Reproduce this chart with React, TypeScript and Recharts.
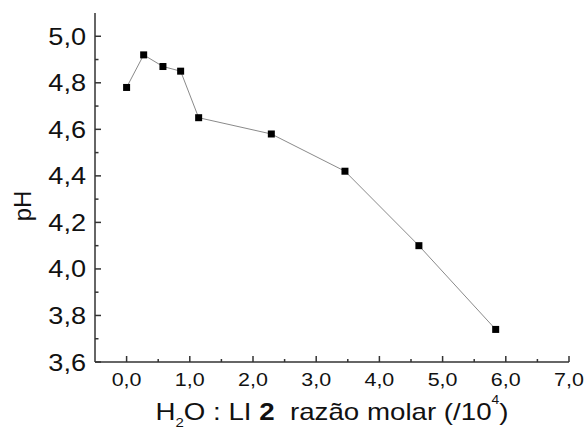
import { LineChart, Line, XAxis, YAxis } from "recharts";

// H2O : LI 2 molar ratio (/10^4) vs pH
const ratio = [0, 0.27, 0.575, 0.855, 1.14, 2.29, 3.455, 4.625, 5.84];
const ph = [4.78, 4.92, 4.87, 4.85, 4.65, 4.58, 4.42, 4.1, 3.74];

const xTicks = [0, 0.5, 1, 1.5, 2, 2.5, 3, 3.5, 4, 4.5, 5, 5.5, 6, 6.5, 7];
const yTicks = [3.6, 3.7, 3.8, 3.9, 4.0, 4.1, 4.2, 4.3, 4.4, 4.5, 4.6, 4.7, 4.8, 4.9, 5.0];

const data = ratio.map((r, i) => ({ r, ph: ph[i] }));

const AXIS = "#333";
const FONT = "'Liberation Sans', Arial, sans-serif";
const STRETCH = 1.13; // the source figure is a bit wider than tall
const fmt = (v: number) => v.toFixed(1).replace(".", ",");

function XTick({ x, y, payload }: any) {
  const v = payload.value as number;
  const major = Number.isInteger(v);
  return (
    <g>
      <line x1={x} x2={x} y1={y} y2={y - (major ? 6 : 3)} stroke={AXIS} strokeWidth={1.5} />
      {major && (
        <text
          transform={`translate(${x},${y + 24}) scale(${STRETCH},1)`}
          textAnchor="middle"
          fontSize={19}
          fill="#111"
          fontFamily={FONT}
        >
          {fmt(v)}
        </text>
      )}
    </g>
  );
}

function YTick({ x, y, payload }: any) {
  const v = payload.value as number;
  const major = Math.round(v * 10) % 2 === 0;
  return (
    <g>
      <line x1={x} x2={x + (major ? 6 : 3.5)} y1={y} y2={y} stroke={AXIS} strokeWidth={1.5} />
      {major && (
        <text
          transform={`translate(${x - 9},${y + 8.5}) scale(${STRETCH},1)`}
          textAnchor="end"
          fontSize={24}
          fill="#111"
          fontFamily={FONT}
        >
          {fmt(v)}
        </text>
      )}
    </g>
  );
}

function Square({ cx, cy }: any) {
  return <rect x={cx - 3.5} y={cy - 3.5} width={7} height={7} fill="#000" />;
}

export default function App() {
  return (
    <div style={{ position: "absolute", left: 0, top: 0, background: "#fff" }}>
      <LineChart width={586} height={432} data={data} margin={{ top: 13, right: 17, left: 0, bottom: 0 }}>
        <XAxis
          xAxisId="top"
          orientation="top"
          dataKey="r"
          type="number"
          domain={[-0.5, 7]}
          height={0}
          tick={false}
          tickLine={false}
          axisLine={{ stroke: AXIS, strokeWidth: 1.5 }}
        />
        <YAxis
          yAxisId="right"
          orientation="right"
          type="number"
          domain={[3.6, 5.1]}
          width={0}
          tick={false}
          tickLine={false}
          axisLine={{ stroke: AXIS, strokeWidth: 1.5 }}
        />
        <XAxis
          dataKey="r"
          type="number"
          domain={[-0.5, 7]}
          ticks={xTicks}
          interval={0}
          height={70}
          tickSize={0}
          tickMargin={0}
          tickLine={false}
          tick={<XTick />}
          axisLine={{ stroke: AXIS, strokeWidth: 1.5 }}
          label={{
            content: ({ viewBox }: any) => (
              <text
                x={viewBox.x + viewBox.width / 2 - 176.5}
                y={420}
                textLength={353}
                lengthAdjust="spacingAndGlyphs"
                fontSize={24}
                fill="#111"
                fontFamily={FONT}
              >
                H<tspan fontSize={13} dy={7}>2</tspan>
                <tspan dy={-7}>O : LI </tspan>
                <tspan fontWeight="bold">2</tspan>
                <tspan>{"\u00a0 razão molar (/10"}</tspan>
                <tspan fontSize={12} dy={-16}>4</tspan>
                <tspan dy={16}>)</tspan>
              </text>
            ),
          }}
        />
        <YAxis
          type="number"
          domain={[3.6, 5.1]}
          ticks={yTicks}
          interval={0}
          width={95}
          tickSize={0}
          tickMargin={0}
          tickLine={false}
          tick={<YTick />}
          axisLine={{ stroke: AXIS, strokeWidth: 1.5 }}
          label={{
            content: () => (
              <text
                x={31}
                y={206}
                textAnchor="middle"
                fontSize={24}
                fill="#111"
                fontFamily={FONT}
                transform="rotate(-90 31 206)"
              >
                pH
              </text>
            ),
          }}
        />
        <Line
          dataKey="ph"
          stroke="#8a8a8a"
          strokeWidth={1}
          dot={<Square />}
          activeDot={false}
          isAnimationActive={false}
        />
      </LineChart>
    </div>
  );
}
